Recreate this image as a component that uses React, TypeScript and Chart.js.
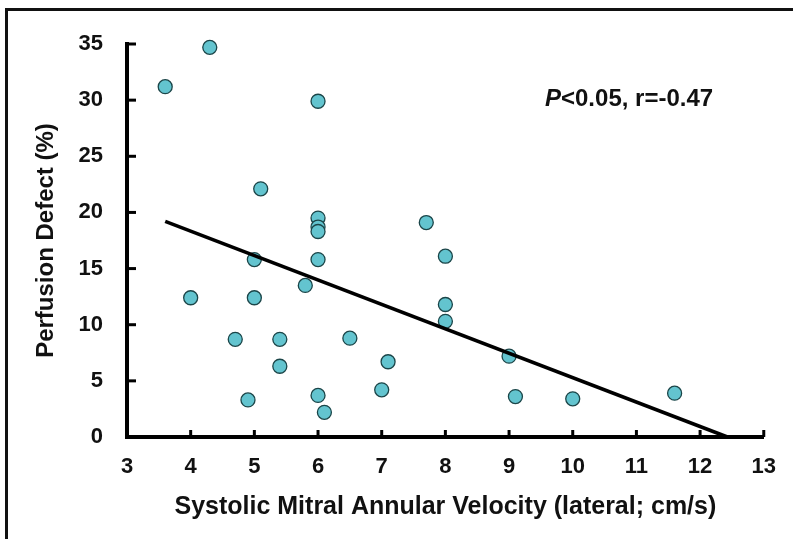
import React, { useEffect, useRef } from "react";
import { Chart, registerables } from "chart.js";

Chart.register(...registerables);

const velocity = [3.6, 4.3, 6.0, 5.1, 6.0, 6.0, 6.0, 7.7, 8.0, 5.0, 6.0, 5.8, 4.0, 5.0, 8.0, 8.0, 4.7, 5.4, 6.5, 5.4, 7.1, 4.9, 6.0, 6.1, 7.0, 9.0, 9.1, 10.0, 11.6];
const perfusionDefect = [31.2, 34.7, 29.9, 22.1, 19.5, 18.7, 18.3, 19.1, 16.1, 15.8, 15.8, 13.5, 12.4, 12.4, 11.8, 10.3, 8.7, 8.7, 8.8, 6.3, 6.7, 3.3, 3.7, 2.2, 4.2, 7.2, 3.6, 3.4, 3.9];
const fitX = [3.6, 12.43];
const fitY = [19.2, 0];
const xTicks = [3, 4, 5, 6, 7, 8, 9, 10, 11, 12, 13];
const yTicks = [0, 5, 10, 15, 20, 25, 30, 35];
const xTitle = "Systolic Mitral Annular Velocity (lateral; cm/s)";
const yTitle = "Perfusion Defect (%)";
const statP = "P";
const statRest = "<0.05, r=-0.47";

const FONT = "'Liberation Sans', Arial, Helvetica, sans-serif";

const decorPlugin = {
  id: "decor",
  beforeDraw(chart: any) {
    const ctx = chart.ctx;
    ctx.save();
    ctx.fillStyle = "#111";
    ctx.fillRect(5, 8, 3, chart.height - 8);
    ctx.fillRect(5, 8, chart.width - 5, 3);
    ctx.restore();
  },
  afterDraw(chart: any) {
    const ctx = chart.ctx;
    const xs = chart.scales.x;
    const ys = chart.scales.y;
    ctx.save();
    ctx.strokeStyle = "#000";
    ctx.lineWidth = 3;
    const left = chart.chartArea.left;
    const bottom = chart.chartArea.bottom;
    yTicks.forEach((v) => {
      const py = ys.getPixelForValue(v);
      ctx.beginPath();
      ctx.moveTo(left, py);
      ctx.lineTo(left + 9, py);
      ctx.stroke();
    });
    xTicks.forEach((v) => {
      const px = xs.getPixelForValue(v);
      ctx.beginPath();
      ctx.moveTo(px, bottom);
      ctx.lineTo(px, bottom - 7);
      ctx.stroke();
    });
    ctx.fillStyle = "#111";
    ctx.textBaseline = "alphabetic";
    ctx.textAlign = "left";
    ctx.font = `italic bold 24px ${FONT}`;
    const x0 = 545;
    const y0 = 106;
    ctx.fillText(statP, x0, y0);
    const w = ctx.measureText(statP).width;
    ctx.font = `bold 24px ${FONT}`;
    ctx.fillText(statRest, x0 + w, y0);
    ctx.restore();
  },
};

export default function App() {
  const ref = useRef<HTMLCanvasElement | null>(null);
  useEffect(() => {
    if (!ref.current) return;
    const points = velocity.map((x, i) => ({ x, y: perfusionDefect[i] }));
    const fit = fitX.map((x, i) => ({ x, y: fitY[i] }));
    const chart = new Chart(ref.current, {
      type: "scatter",
      data: {
        datasets: [
          {
            type: "line",
            data: fit,
            borderColor: "#000",
            borderWidth: 3.5,
            pointRadius: 0,
            fill: false,
            clip: false,
            order: 0,
          } as any,
          {
            data: points,
            backgroundColor: "#63c4cf",
            borderColor: "#1b4548",
            borderWidth: 1.3,
            pointRadius: 7,
            clip: false,
            order: 1,
          } as any,
        ],
      },
      options: {
        animation: false,
        responsive: false,
        maintainAspectRatio: false,
        devicePixelRatio: 1,
        layout: { padding: { top: 44, right: 26, left: 0, bottom: 0 } },
        plugins: { legend: { display: false }, tooltip: { enabled: false } },
        scales: {
          x: {
            type: "linear",
            min: 3,
            max: 13,
            afterFit: (s: any) => {
              s.height = 102;
            },
            afterBuildTicks: (s: any) => {
              s.ticks = xTicks.map((v) => ({ value: v }));
            },
            grid: { display: false, drawTicks: false },
            border: { display: true, color: "#000", width: 4 },
            ticks: {
              color: "#111",
              padding: 17,
              font: { family: FONT, size: 22, weight: "bold" },
            },
            title: {
              display: true,
              text: xTitle,
              color: "#111",
              padding: { top: 0, bottom: 17 },
              font: { family: FONT, size: 25, weight: "bold" },
            },
          },
          y: {
            type: "linear",
            min: 0,
            max: 35,
            afterFit: (s: any) => {
              s.width = 127;
            },
            afterBuildTicks: (s: any) => {
              s.ticks = yTicks.map((v) => ({ value: v }));
            },
            grid: { display: false, drawTicks: false },
            border: { display: true, color: "#000", width: 4 },
            ticks: {
              color: "#111",
              padding: 24,
              font: { family: FONT, size: 22, weight: "bold" },
            },
            title: {
              display: true,
              text: yTitle,
              color: "#111",
              padding: { top: 32, bottom: 0 },
              font: { family: FONT, size: 24, weight: "bold" },
            },
          },
        },
      },
      plugins: [decorPlugin],
    });
    return () => chart.destroy();
  }, []);
  return (
    <div style={{ position: "fixed", left: 0, top: 0, width: 793, height: 539, background: "#fff" }}>
      <canvas ref={ref} width={793} height={539} style={{ display: "block", width: 793, height: 539 }} />
    </div>
  );
}
